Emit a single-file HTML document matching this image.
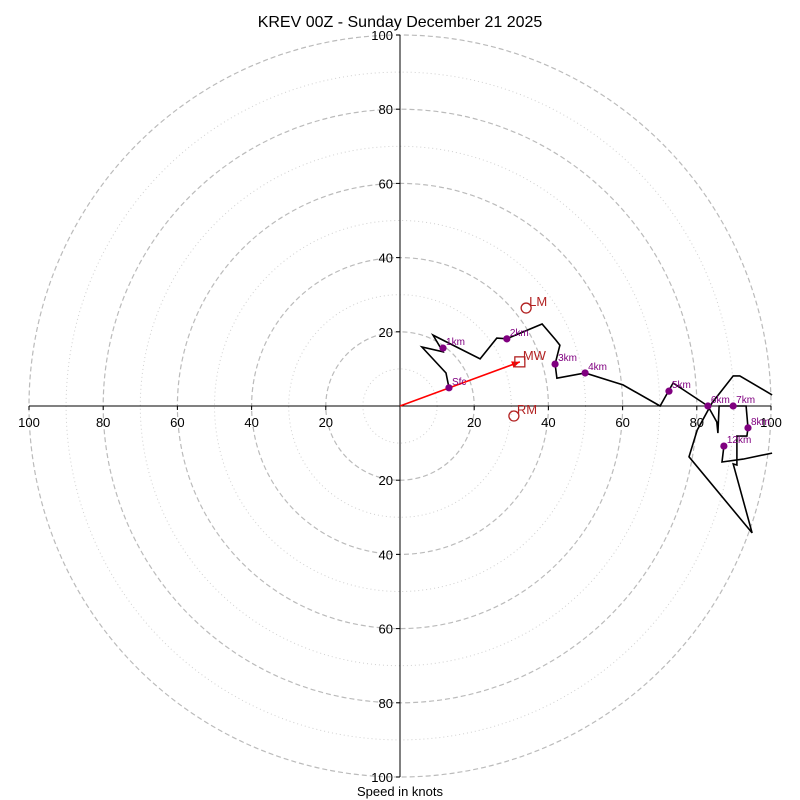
<!DOCTYPE html>
<html><head><meta charset="utf-8"><style>
html,body{margin:0;padding:0;background:#fff;}
svg{display:block;font-family:"Liberation Sans","DejaVu Sans",sans-serif;}
</style></head><body>
<svg id="chart" width="800" height="800" viewBox="0 0 800 800">
<text x="400" y="27" text-anchor="middle" font-size="16">KREV 00Z - Sunday December 21 2025</text>
<text x="400" y="796" text-anchor="middle" font-size="13">Speed in knots</text>
<g id="rings"></g><g id="axes"></g><g id="trace"></g><g id="marks"></g>
</svg>
<script>
const ringMajor = [20, 40, 60, 80, 100];
const ringMinor = [10, 30, 50, 70, 90];
const tickLabels = [100, 80, 60, 40, 20, 20, 40, 60, 80, 100];
const tickValues = [-100, -80, -60, -40, -20, 20, 40, 60, 80, 100];
const traceU = [13.2,12.4,5.9,11.6,8.9,21.6,26.1,28.8,38.3,42.0,43.1,41.8,42.3,49.9,60.1,70.1,73.6,83.0,85.4,85.7,86.0,89.8,93.3,93.8,93.5,90.8,90.8,89.8,94.9,77.9,80.1,84.1,89.8,91.6,100.3,null,87.3,86.8,92.5,100.3];
const traceV = [4.9,8.9,15.9,14.6,19.1,12.7,18.3,18.1,22.1,17.8,16.4,11.3,7.5,8.9,5.7,0,6.2,0,-4.3,-7.3,0,0,0,-5.9,-8.1,-8.1,-15.9,-15.6,-34.2,-13.7,-6.5,0.8,8.1,8.1,3.0,null,-10.8,-15.1,-14.3,-12.7];
const heightLabels = ["Sfc","1km","2km","3km","4km","5km","6km","7km","8km","12km"];
const heightU = [13.2,11.6,28.8,41.8,49.9,72.5,83.0,89.8,93.8,87.3];
const heightV = [4.9,15.6,18.1,11.3,8.9,4.0,0,0,-5.9,-10.8];
const motionLabels = ["LM","MW","RM"];
const motionU = [34.0,32.3,30.7];
const motionV = [26.4,11.9,-2.7];

const CX=400, CY=406, S=3.71;
const sx=u=>CX+u*S, sy=v=>CY-v*S;
const NS="http://www.w3.org/2000/svg";
function mk(tag, parent, attrs){const e=document.createElementNS(NS,tag);for(const k in attrs)e.setAttribute(k,attrs[k]);parent.appendChild(e);return e;}
const rings=document.getElementById('rings'), axes=document.getElementById('axes'), trace=document.getElementById('trace'), marks=document.getElementById('marks');

ringMinor.forEach(r=>{const c=mk('circle',rings,{cx:CX,cy:CY,r:r*S,fill:'none',stroke:'#d0d0d0','stroke-width':1,'stroke-dasharray':'1,3'});

});
ringMajor.forEach(r=>{const c=mk('circle',rings,{cx:CX,cy:CY,r:r*S,fill:'none',stroke:'#bbbbbb','stroke-width':1.2,'stroke-dasharray':'5,3'});

});

const xa=mk('line',axes,{x1:sx(-100),y1:CY,x2:sx(100),y2:CY,stroke:'#000','stroke-width':1});


const ya=mk('line',axes,{x1:CX,y1:sy(100),x2:CX,y2:sy(-100),stroke:'#000','stroke-width':1});


tickValues.forEach((t,i)=>{
  mk('line',axes,{x1:sx(t),y1:CY,x2:sx(t),y2:CY+4,stroke:'#000'});
  const tx=mk('text',axes,{x:sx(t),y:CY+21,'text-anchor':'middle','font-size':13});
  tx.textContent=tickLabels[i];
  
  
  mk('line',axes,{x1:CX-4,y1:sy(-t),x2:CX,y2:sy(-t),stroke:'#000'});
  const ty=mk('text',axes,{x:CX-7,y:sy(-t)+5,'text-anchor':'end','font-size':13});
  ty.textContent=tickLabels[i];
  
  
});

const ar=mk('line',trace,{x1:CX,y1:CY,x2:sx(motionU[1]),y2:sy(motionV[1]),stroke:'#ff0000','stroke-width':1.6});


(function(){const x2=sx(motionU[1]),y2=sy(motionV[1]);const a=Math.atan2(y2-CY,x2-CX);const L=8,W=3.5;
const p=[[x2,y2],[x2-L*Math.cos(a)+W*Math.sin(a),y2-L*Math.sin(a)-W*Math.cos(a)],[x2-L*Math.cos(a)-W*Math.sin(a),y2-L*Math.sin(a)+W*Math.cos(a)]];
const h=mk('polygon',trace,{points:p.map(q=>q.join(',')).join(' '),fill:'#ff0000'});

})();

let d='', pen=false;
traceU.forEach((u,i)=>{const v=traceV[i];if(u===null){pen=false;return;}d+=(pen?'L':'M')+sx(u).toFixed(1)+','+sy(v).toFixed(1);pen=true;});
const path=mk('path',trace,{d:d,fill:'none',stroke:'#000','stroke-width':1.6,'stroke-linejoin':'miter'});



heightU.forEach((u,i)=>{
  const c=mk('circle',marks,{cx:sx(u),cy:sy(heightV[i]),r:3.6,fill:'#800080'});
  
  
  const t=mk('text',marks,{x:sx(u)+3,y:sy(heightV[i])-3,'font-size':10,fill:'#800080'});
  t.textContent=heightLabels[i];
  
  
});
motionU.forEach((u,i)=>{
  const x=sx(u),y=sy(motionV[i]);
  let m;
  if(motionLabels[i]==='MW') m=mk('rect',marks,{x:x-5,y:y-5,width:10,height:10,fill:'none',stroke:'#b22222','stroke-width':1.3});
  else m=mk('circle',marks,{cx:x,cy:y,r:5,fill:'none',stroke:'#b22222','stroke-width':1.3});
  
  
  const t=mk('text',marks,{x:x+3,y:y-2,'font-size':13,fill:'#b22222'});
  t.textContent=motionLabels[i];
  
  
});
</script>
</body></html>
